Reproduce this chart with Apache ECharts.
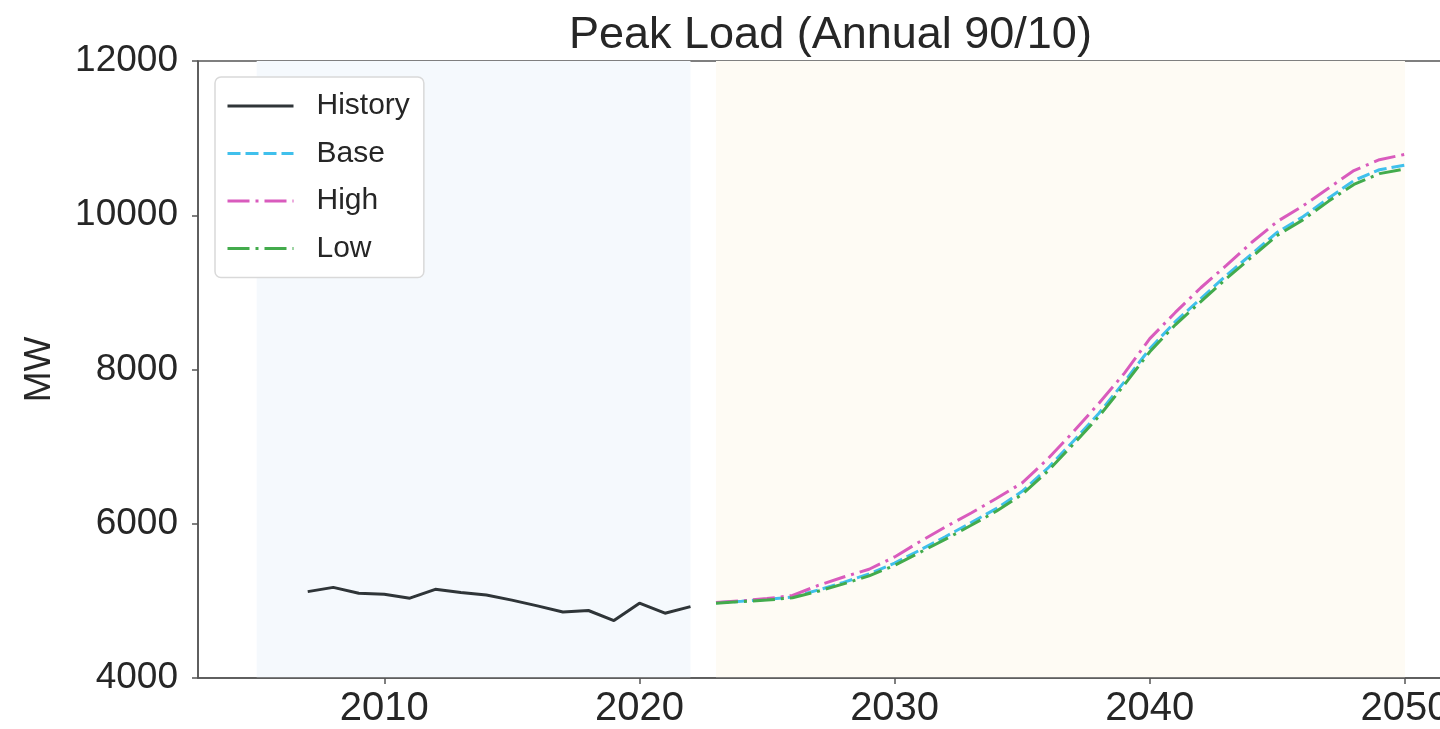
<!DOCTYPE html>
<html>
<head>
<meta charset="utf-8">
<script src="https://cdn.jsdelivr.net/npm/echarts@6/dist/echarts.min.js"></script>
<style>
html,body{margin:0;padding:0;background:#fff;overflow:hidden;}
#chart{width:1440px;height:729px;}
</style>
</head>
<body>
<div id="chart"></div>
<script>
// ---- data ----
const histYears = [2007,2008,2009,2010,2011,2012,2013,2014,2015,2016,2017,2018,2019,2020,2021,2022];
const historyVals = [5120,5175,5100,5085,5035,5150,5110,5075,5010,4935,4855,4875,4745,4970,4840,4925];
const fcYears = [2023,2024,2025,2026,2027,2028,2029,2030,2031,2032,2033,2034,2035,2036,2037,2038,2039,2040,2041,2042,2043,2044,2045,2046,2047,2048,2049,2050];
const baseVals = [4975,4995,5020,5050,5140,5240,5350,5490,5660,5835,6015,6200,6420,6720,7070,7430,7840,8270,8620,8920,9220,9500,9780,9980,10220,10450,10590,10650];
const highVals = [4980,5000,5030,5070,5200,5310,5410,5570,5770,5960,6140,6330,6530,6840,7190,7560,7950,8400,8740,9060,9350,9650,9920,10120,10350,10580,10720,10790];
const lowVals  = [4970,4990,5010,5040,5125,5220,5325,5460,5630,5800,5980,6165,6380,6680,7030,7390,7800,8230,8580,8880,9180,9460,9740,9940,10180,10400,10540,10600];
const xTicks = [2010,2020,2030,2040,2050];
const yTicks = [4000,6000,8000,10000,12000];
const historyShade = [2005,2022];
const forecastShade = [2023,2050];

const pair = (xs, ys) => xs.map((x,i)=>[x, ys[i]]);
const FONT = '"Liberation Sans", Arial, Helvetica, sans-serif';
const TXT = '#262626';

const chart = echarts.init(document.getElementById('chart'));
chart.setOption({
  animation:false,
  backgroundColor:'#ffffff',
  title:{
    text:'Peak Load (Annual 90/10)',
    left:564, top:8,
    textStyle:{fontFamily:FONT,fontSize:45,fontWeight:'normal',color:TXT}
  },
  grid:{left:198, width:1258, top:61, height:617, containLabel:false, outerBoundsMode:'none',
        show:true, borderColor:'#555', borderWidth:1.5, backgroundColor:'#fff'},
  legend:{
    orient:'vertical', left:215, top:77,
    padding:[11,14,11,11],
    itemWidth:66, itemHeight:20, itemGap:11.5,
    backgroundColor:'#fff', borderColor:'#d9d9d9', borderWidth:1.5, borderRadius:6,
    itemStyle:{opacity:0},
    lineStyle:{width:3},
    textStyle:{fontFamily:FONT,fontSize:30,color:TXT,lineHeight:36,padding:[0,0,0,18]},
    data:['History','Base','High','Low']
  },
  xAxis:[{
    type:'value', min:2002.7, max:2052, z:10,
    axisLine:{show:true,lineStyle:{color:'#555',width:1.5}},
    axisTick:{show:true,inside:false,length:6,customValues:xTicks,lineStyle:{color:'#555',width:1.5}},
    axisLabel:{customValues:xTicks,fontFamily:FONT,fontSize:40,color:TXT,margin:11,formatter:v=>String(v)},
    splitLine:{show:false}
  }],
  yAxis:[{
    type:'value', min:4000, max:12000, interval:2000, z:10,
    name:'MW', nameLocation:'middle', nameGap:140, nameRotate:90,
    nameTextStyle:{fontFamily:FONT,fontSize:37,color:TXT},
    axisLine:{show:true,lineStyle:{color:'#555',width:1.5}},
    axisTick:{show:true,inside:false,length:6,lineStyle:{color:'#555',width:1.5}},
    axisLabel:{fontFamily:FONT,fontSize:37,color:TXT,margin:20,
      formatter:v=>yTicks.includes(v)?String(v):''},
    splitLine:{show:false}
  }],
  series:[
    {
      name:'History', type:'line', data:pair(histYears, historyVals),
      showSymbol:false, symbol:'none', z:3,
      lineStyle:{color:'#2f3538', width:3},
      itemStyle:{color:'#2f3538'},
      markArea:{
        silent:true,
        data:[
          [{xAxis:historyShade[0], itemStyle:{color:'#f5f9fd'}},{xAxis:historyShade[1]}],
          [{xAxis:forecastShade[0], itemStyle:{color:'#fefbf4'}},{xAxis:forecastShade[1]}]
        ]
      }
    },
    {
      name:'Base', type:'line', data:pair(fcYears, baseVals),
      showSymbol:false, symbol:'none', z:4,
      lineStyle:{color:'#40c0ec', width:3, type:[13,5]},
      itemStyle:{color:'#40c0ec'}
    },
    {
      name:'High', type:'line', data:pair(fcYears, highVals),
      showSymbol:false, symbol:'none', z:5,
      lineStyle:{color:'#d95bbd', width:3, type:[22,6,3,6]},
      itemStyle:{color:'#d95bbd'}
    },
    {
      name:'Low', type:'line', data:pair(fcYears, lowVals),
      showSymbol:false, symbol:'none', z:6,
      lineStyle:{color:'#43ab4c', width:3, type:[22,6,3,6]},
      itemStyle:{color:'#43ab4c'}
    }
  ]
});
</script>
</body>
</html>
